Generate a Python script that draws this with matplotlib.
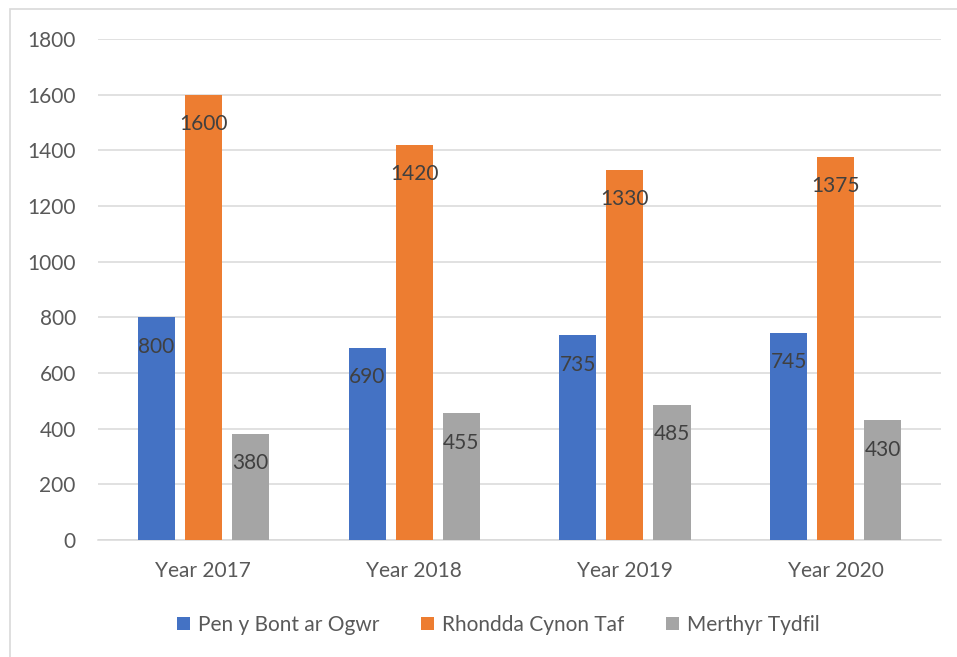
import matplotlib.pyplot as plt
import numpy as np
from matplotlib.patches import Rectangle

categories = ["Year 2017", "Year 2018", "Year 2019", "Year 2020"]
series_names = ["Pen y Bont ar Ogwr", "Rhondda Cynon Taf", "Merthyr Tydfil"]
pen_y_bont = [800, 690, 735, 745]
rhondda = [1600, 1420, 1330, 1375]
merthyr = [380, 455, 485, 430]
colors = ["#4472C4", "#ED7D31", "#A5A5A5"]

plt.rcParams["font.family"] = ["Lato", "DejaVu Sans"]

fig = plt.figure(figsize=(9.57, 6.57), dpi=100)
ax = fig.add_axes([0.1024, 0.178, 0.881, 0.7626])

# light frame round the chart (left and top edges visible)
fig.patches.append(Rectangle((10 / 957, -0.1), 1.2, (657 - 9) / 657 + 0.1,
                             transform=fig.transFigure, fill=False,
                             edgecolor="#D9D9D9", linewidth=1.2))

x = np.arange(len(categories))
width = 0.176
offset = 0.2233
for i, (vals, name) in enumerate(zip([pen_y_bont, rhondda, merthyr], series_names)):
    pos = x + (i - 1) * offset
    bars = ax.bar(pos, vals, width, color=colors[i], label=name, zorder=3)
    for b, v in zip(bars, vals):
        ax.annotate(str(v), (b.get_x() + b.get_width() / 2, v),
                    xytext=(0, -21), textcoords="offset points",
                    ha="center", va="center", fontsize=15, color="#404040",
                    zorder=4)

ax.set_xlim(-0.5, 3.5)
ax.set_ylim(0, 1800)
ax.set_yticks(range(0, 1801, 200))
ax.set_xticks(x)
ax.set_xticklabels(categories)
ax.yaxis.grid(True, color="#D9D9D9", linewidth=1.1, zorder=0)
for s in ["top", "right", "left"]:
    ax.spines[s].set_visible(False)
ax.spines["bottom"].set_color("#D9D9D9")
ax.spines["bottom"].set_linewidth(1.1)
ax.tick_params(axis="both", length=0, labelsize=15, labelcolor="#595959")
ax.tick_params(axis="y", pad=16)
ax.tick_params(axis="x", pad=15)

fig.legend(loc="center", bbox_to_anchor=(0.521, 0.049), ncol=3, frameon=False,
           fontsize=15, handlelength=0.6, handleheight=0.6,
           handletextpad=0.4, columnspacing=2.0, labelcolor="#595959")

fig.savefig("out.png", dpi=100)
